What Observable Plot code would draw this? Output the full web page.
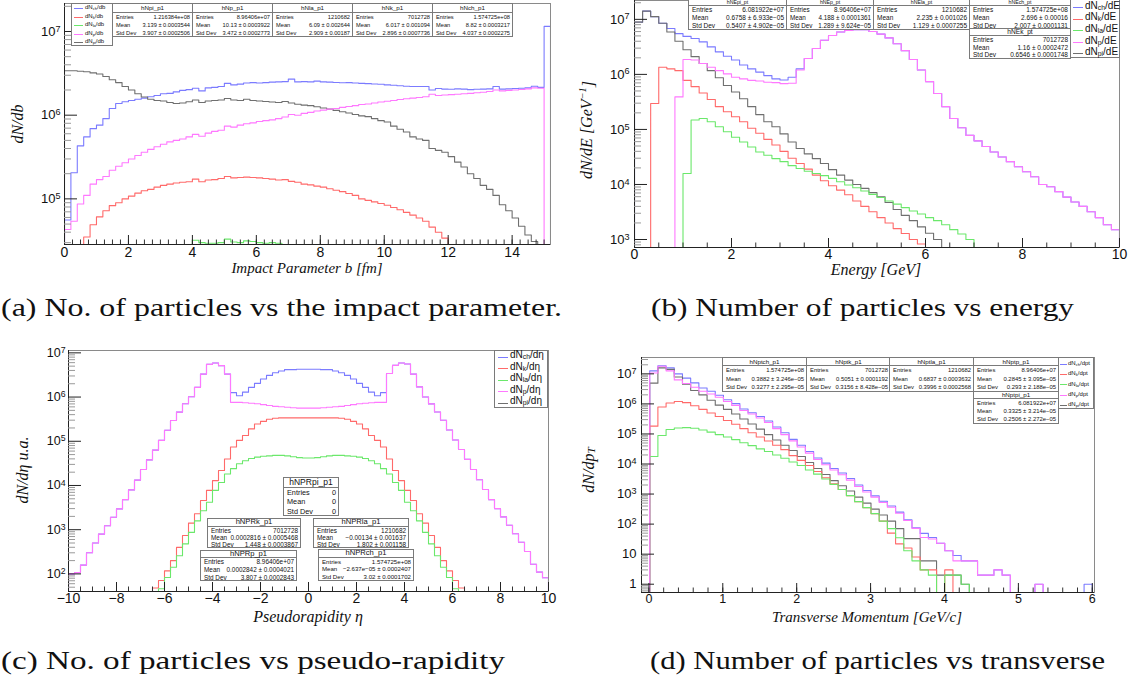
<!DOCTYPE html>
<html><head><meta charset="utf-8">
<script src="https://cdn.jsdelivr.net/npm/d3@7"></script>
<script src="https://cdn.jsdelivr.net/npm/@observablehq/plot@0.6"></script>
<style>
html,body{margin:0;padding:0;background:#fff;}
body{width:1134px;height:684px;overflow:hidden;position:relative;font-family:"Liberation Sans",Arial,sans-serif;}
.pn{position:absolute;}
.stat{position:absolute;background:#fff;border:1px solid #7a7a7a;box-sizing:border-box;color:#111;font-family:"Liberation Sans",Arial,sans-serif;overflow:hidden;}
.stat .h{text-align:center;border-bottom:1px solid #7a7a7a;box-sizing:border-box;white-space:nowrap;}
.stat .r{display:flex;justify-content:space-between;gap:3px;padding:0 2px 0 3px;white-space:nowrap;box-sizing:border-box;}
.leg{position:absolute;background:#fff;border:1px solid #7a7a7a;box-sizing:border-box;color:#111;font-family:"Liberation Sans",Arial,sans-serif;}
.leg .it{position:absolute;white-space:nowrap;}
.leg .ln{position:absolute;height:0;border-top:1px solid;}
.leg sub{font-size:68%;vertical-align:-0.22em;line-height:0;}
</style></head><body>
<script>
// ---------------- DATA ----------------
const names = ["ch","k","la","p","pi"];
const colors = {ch:"#7b7bff", k:"#ff6a6a", la:"#6be86b", p:"#ff78ff", pi:"#6f6f6f"};

// (a) dN/db, bins of 0.2 fm from 0
const aCh = [5.6e4,2.05e5,4.3e5,5.5e5,6.9e5,7.6e5,9.1e5,1.2e6,1.38e6,1.45e6,
1.5e6,1.55e6,1.6e6,1.66e6,1.72e6,1.8e6,1.82e6,1.9e6,1.98e6,2.02e6,
2.1e6,1.95e6,2.12e6,2.15e6,2.2e6,2.4e6,2.3e6,2.35e6,2.42e6,2.45e6,
2.42e6,2.45e6,2.48e6,2.5e6,2.52e6,2.7e6,2.5e6,2.52e6,2.5e6,2.55e6,
2.5e6,2.48e6,2.46e6,2.44e6,2.45e6,2.42e6,2.4e6,2.38e6,2.36e6,2.34e6,
2.3e6,2.28e6,2.25e6,2.22e6,2.2e6,2.2e6,2.2e6,2.0e6,2.08e6,2.05e6,
2.04e6,2.06e6,2.05e6,2.02e6,2.04e6,2.05e6,2.06e6,2.2e6,2.05e6,2.06e6,
2.08e6,2.1e6,2.12e6,2.22e6,2.15e6,1.15e7];
const aP = [4.3e4,5.4e4,8.7e4,1.1e5,1.5e5,1.7e5,1.85e5,2.2e5,2.45e5,2.7e5,
3.0e5,3.3e5,3.6e5,3.9e5,4.2e5,4.5e5,4.8e5,5.0e5,5.2e5,5.5e5,
5.9e5,5.6e5,6.1e5,6.4e5,6.6e5,7.4e5,7.2e5,7.6e5,7.9e5,8.1e5,
8.4e5,8.6e5,8.8e5,9.1e5,9.5e5,1.02e6,1.0e6,1.05e6,1.08e6,1.12e6,
1.15e6,1.18e6,1.2e6,1.24e6,1.27e6,1.3e6,1.34e6,1.36e6,1.4e6,1.44e6,
1.47e6,1.5e6,1.54e6,1.57e6,1.6e6,1.63e6,1.66e6,1.78e6,1.72e6,1.74e6,
1.76e6,1.78e6,1.8e6,1.82e6,1.85e6,1.88e6,1.92e6,2.0e6,1.95e6,1.98e6,
2.0e6,2.03e6,2.06e6,2.12e6,2.1e6,0];
const aK = [0,0,0,3.5e4,4.9e4,6.1e4,7.2e4,8.3e4,9.0e4,1.0e5,
1.08e5,1.17e5,1.25e5,1.3e5,1.38e5,1.45e5,1.5e5,1.55e5,1.58e5,1.6e5,
1.72e5,1.6e5,1.68e5,1.7e5,1.75e5,1.85e5,1.78e5,1.8e5,1.82e5,1.8e5,
1.78e5,1.75e5,1.72e5,1.68e5,1.7e5,1.62e5,1.58e5,1.5e5,1.47e5,1.42e5,
1.38e5,1.32e5,1.27e5,1.22e5,1.16e5,1.1e5,1.0e5,9.6e4,9.2e4,8.8e4,
8.4e4,7.9e4,7.4e4,6.9e4,6.4e4,5.9e4,5.4e4,4.6e4,4.0e4,3.4e4,
0,0,0,0,0,0,0,0,0,0,
0,0,0,0,0,0];
const aPi = [3.4e6,3.4e6,3.35e6,3.3e6,3.2e6,3.1e6,2.9e6,2.65e6,2.45e6,2.2e6,
2.0e6,1.8e6,1.65e6,1.55e6,1.5e6,1.48e6,1.42e6,1.38e6,1.4e6,1.45e6,
1.52e6,1.42e6,1.48e6,1.5e6,1.52e6,1.58e6,1.52e6,1.5e6,1.55e6,1.5e6,
1.48e6,1.46e6,1.44e6,1.42e6,1.46e6,1.4e6,1.35e6,1.32e6,1.3e6,1.26e6,
1.22e6,1.18e6,1.14e6,1.1e6,1.06e6,1.02e6,9.8e5,9.6e5,9.1e5,8.6e5,
8.3e5,7.4e5,6.8e5,6.3e5,5.5e5,5.2e5,5.0e5,4.0e5,3.8e5,3.6e5,
3.2e5,2.75e5,2.4e5,2.0e5,1.75e5,1.45e5,1.3e5,1.1e5,8.5e4,7.2e4,
5.9e4,4.7e4,3.7e4,3.1e4,0,0];
const aLa = [0,0,0,0,0,0,0,0,0,0, 0,0,0,0,0,0,0,0,0,0,
3.2e4,3.0e4,2.95e4,2.95e4,3.0e4,3.3e4,3.05e4,3.0e4,3.15e4,3.1e4,
3.0e4,2.95e4,3.0e4,2.95e4,0,0,0,0,0,0,
0,0,0,0,0,0,0,0,0,0, 0,0,0,0,0,0,0,0,0,0,
0,0,0,0,0,0,0,0,0,0, 0,0,0,0,0,0];

// (b) dN/dE, bins of 1/6 GeV from 0
const bCh = [8.9e6,1.41e7,1.12e7,8.5e6,6.8e6,5.5e6,4.9e6,4.5e6,3.9e6,3.16e6,
2.57e6,2.14e6,1.82e6,1.48e6,1.26e6,1.1e6,9.5e5,8.3e5,7.9e5,8.9e5,
1.26e6,1.95e6,2.95e6,4.17e6,5.1e6,5.9e6,6.3e6,6.5e6,6.5e6,6.0e6,
5.4e6,4.6e6,3.6e6,2.7e6,1.86e6,1.2e6,7.4e5,4.5e5,2.6e5,1.58e5,
1.07e5,7.8e4,6.2e4,4.9e4,3.9e4,3.16e4,2.6e4,2.1e4,1.7e4,1.38e4,
1.0e4,9.1e3,7.4e3,5.9e3,4.8e3,4.0e3,3.2e3,2.5e3,1.86e3,1.5e3];
const bP = [0,0,0,0,0,3.9e5,1.86e6,1.82e6,1.58e6,1.35e6,
1.17e6,1.02e6,8.9e5,8.3e5,7.8e5,7.6e5,7.2e5,7.1e5,6.8e5,6.9e5,
1.2e6,1.95e6,2.95e6,4.17e6,5.1e6,5.9e6,6.3e6,6.5e6,6.5e6,6.0e6,
5.4e6,4.6e6,3.6e6,2.7e6,1.86e6,1.2e6,7.4e5,4.5e5,2.6e5,1.58e5,
1.07e5,7.8e4,6.2e4,4.9e4,3.9e4,3.16e4,2.6e4,2.1e4,1.7e4,1.38e4,
1.0e4,9.1e3,7.4e3,5.9e3,4.8e3,4.0e3,3.2e3,2.5e3,1.86e3,1.5e3];
const bK = [0,0,2.95e5,1.35e6,1.26e6,1.17e6,7.8e5,6.0e5,4.6e5,3.5e5,
2.6e5,2.1e5,1.7e5,1.38e5,1.05e5,8.5e4,6.6e4,5.2e4,4.0e4,3.0e4,
2.4e4,1.9e4,1.48e4,1.17e4,9.5e3,7.9e3,6.5e3,5.0e3,4.0e3,3.2e3,
2.5e3,2.0e3,1.58e3,1.29e3,1.0e3,8.3e2,0,0,0,0,
0,0,0,0,0,0,0,0,0,0, 0,0,0,0,0,0,0,0,0,0];
const bLa = [0,0,0,0,0,0,1.58e4,1.48e5,1.58e5,1.38e5,
1.12e5,9.1e4,7.2e4,5.9e4,4.8e4,3.9e4,3.4e4,2.95e4,2.6e4,2.2e4,
1.95e4,1.74e4,1.58e4,1.45e4,1.29e4,1.12e4,9.8e3,8.7e3,7.6e3,6.6e3,
5.8e3,5.0e3,4.4e3,3.8e3,3.3e3,2.9e3,2.5e3,2.2e3,1.86e3,1.51e3,
1.26e3,1.0e3,0,0,0,0,0,0,0,0, 0,0,0,0,0,0,0,0,0,0];
const bPi = [8.9e6,1.41e7,1.12e7,8.5e6,5.9e6,4.0e6,2.8e6,2.1e6,1.58e6,1.17e6,
8.7e5,6.3e5,4.8e5,3.6e5,2.6e5,1.86e5,1.38e5,1.12e5,8.3e4,5.9e4,
4.5e4,3.6e4,2.95e4,2.4e4,1.86e4,1.48e4,1.2e4,1.0e4,8.5e3,7.1e3,
6.0e3,4.7e3,3.5e3,2.75e3,2.2e3,1.7e3,1.3e3,1.0e3,0,0,
0,0,0,0,0,0,0,0,0,0, 0,0,0,0,0,0,0,0,0,0];

// (c) dN/deta, bins of 0.25 from -10
const cWingL = [100,107,158,302,501,794,1230,1905,2950,4790,
7940,1.32e4,2.29e4,3.8e4,6.31e4,1.05e5,1.78e5,2.95e5,4.57e5,7.08e5,
1.02e6,1.66e6,3.31e6,5.5e6,5.89e6,5.13e6,3.31e6];
const cPCenter = [7.59e5,7.59e5,7.41e5,7.24e5,7.08e5,6.76e5,6.46e5,6.17e5,6.03e5,5.89e5,
5.75e5,5.62e5,5.62e5,5.62e5,5.62e5,5.75e5,5.89e5,6.03e5,6.17e5,6.46e5,
6.76e5,7.08e5,7.24e5,7.41e5,7.59e5,7.59e5];
const cChCenter = [1.26e6,1.07e6,1.29e6,1.66e6,2.04e6,2.57e6,3.09e6,3.55e6,3.89e6,4.17e6,
4.17e6,4.27e6,4.27e6,4.27e6,4.27e6,4.17e6,4.17e6,3.89e6,3.55e6,3.09e6,
2.57e6,2.04e6,1.66e6,1.29e6,1.07e6,1.26e6];
const cWingR = [3.4e6,5.2e6,5.9e6,5.6e6,3.3e6,1.7e6,1.0e6,7.0e5,4.6e5,3.0e5,
1.8e5,1.07e5,6.5e4,3.9e4,2.3e4,1.35e4,8.1e3,4.8e3,3.0e3,1.95e3,
1.26e3,810,520,320,165,110,82];
const cP = [...cWingL, ...cPCenter, ...cWingR];
const cCh = [...cWingL, ...cChCenter, ...cWingR];
const cK = [0,0,0,0,0,0,0,0,0,0,0,0,0,0,
48,71,117,200,398,741,1410,2290,4570,7760,
1.29e4,2.19e4,3.98e4,7.41e4,1.05e5,1.35e5,1.91e5,2.45e5,2.82e5,3.16e5,
3.31e5,3.39e5,3.39e5,3.39e5,3.39e5,3.39e5,3.39e5,3.39e5,3.39e5,3.39e5,3.39e5,3.31e5,
3.16e5,2.82e5,2.45e5,1.91e5,1.35e5,1.05e5,7.41e4,3.98e4,2.19e4,1.29e4,
7760,4570,2290,1410,741,398,200,117,71,48,
0,0,0,0,0,0,0,0,0,0,0,0,0,0];
const cLa = [0,0,0,0,0,0,0,0,0,0,0,0,0,0,0,
46,83,141,257,479,871,1585,2690,4170,7760,
1.17e4,1.82e4,2.4e4,3.09e4,3.63e4,4.07e4,4.37e4,4.57e4,4.68e4,4.79e4,
4.79e4,4.68e4,4.47e4,4.27e4,4.17e4,
4.17e4,4.27e4,4.47e4,4.68e4,4.79e4,
4.79e4,4.68e4,4.57e4,4.37e4,4.07e4,3.63e4,3.09e4,2.4e4,1.82e4,1.17e4,
7760,4170,2690,1585,871,479,257,141,83,46,
0,0,0,0,0,0,0,0,0,0,0,0,0,0,0];

// (d) dN/dpT, 55 bins from -0.1 to 6.0
const dCh = [0,1.26e7,1.85e7,1.58e7,1.0e7,7.2e6,5.0e6,3.4e6,2.63e6,1.95e6,
1.38e6,1.02e6,6.8e5,5.1e5,3.8e5,2.7e5,1.7e5,1.1e5,6.6e4,4.2e4,
2.6e4,1.58e4,1.07e4,7.1e3,5.0e3,3.3e3,2.0e3,1.32e3,870,575,
400,250,138,76,49,36,23,13,9,6,
6,2,2,3,2,0,0,0,1,0, 0,0,0,0,1];
const dP = [0,1.07e7,1.8e7,1.26e7,6.3e6,4.8e6,3.6e6,2.63e6,2.14e6,1.66e6,
1.2e6,8.9e5,6.0e5,4.6e5,3.4e5,2.4e5,1.51e5,9.5e4,5.9e4,3.7e4,
2.3e4,1.41e4,9.5e3,6.3e3,4.4e3,2.9e3,1.78e3,1.17e3,790,525,
363,229,132,72,36,32,23,13,6,6,
6,2,2,3,2,0,0,0,1,0, 0,0,0,0,0];
const dPi = [0,4.9e6,1.58e7,1.41e7,7.9e6,4.5e6,2.8e6,2.0e6,1.32e6,9.1e5,
6.6e5,4.6e5,3.16e5,2.14e5,1.45e5,9.5e4,6.3e4,4.2e4,2.8e4,1.78e4,
1.12e4,7.1e3,4.5e3,2.8e3,1.9e3,1.26e3,790,500,316,200,
126,71,33,33,6,6,2,2,2,1,
0,0,0,0,0,0,0,0,0,0, 0,0,0,0,0];
const dK = [0,1.82e5,7.9e5,1.07e6,1.2e6,1.1e6,8.7e5,6.6e5,5.0e5,3.8e5,
2.8e5,2.1e5,1.51e5,1.1e5,7.9e4,5.8e4,4.2e4,3.0e4,1.9e4,1.32e4,
8.9e3,5.6e3,3.5e3,2.2e3,1.41e3,890,560,355,224,126,
50,22,16,8,3,3,0,3,0,0,
0,0,0,0,0,0,0,0,0,0, 0,0,0,0,0];
const dLa = [0,1.78e4,8.9e4,1.41e5,1.58e5,1.62e5,1.55e5,1.35e5,1.15e5,9.5e4,
7.9e4,6.5e4,5.1e4,4.1e4,3.2e4,2.6e4,2.0e4,1.55e4,1.17e4,8.9e3,
6.3e3,4.6e3,3.16e3,2.1e3,1.41e3,890,560,355,224,126,
71,35,13,6,3,2,0,2,2,1,
0,0,0,0,0,0,0,0,0,0, 0,0,0,0,0];

// tick labels
const aXTicks = [0,2,4,6,8,10,12,14];
const bXTicks = [0,2,4,6,8,10];
const cXTicks = [-10,-8,-6,-4,-2,0,2,4,6,8,10];
const dXTicks = [0,1,2,3,4,5,6];
const aYTicks = [1e5,1e6,1e7];
const bYTicks = [1e3,1e4,1e5,1e6,1e7];
const cYTicks = [1e2,1e3,1e4,1e5,1e6,1e7];
const dYTicks = [1,10,1e2,1e3,1e4,1e5,1e6,1e7];

// statistics boxes text
const aStats = [
 ["hNpi_p1","1.216384e+08","3.139 ± 0.0003544","3.907 ± 0.0002506"],
 ["hNp_p1","8.96406e+07","10.13 ± 0.0003922","3.472 ± 0.0002773"],
 ["hNla_p1","1210682","6.09 ± 0.002644","2.909 ± 0.00187"],
 ["hNk_p1","7012728","6.017 ± 0.001094","2.896 ± 0.0007736"],
 ["hNch_p1","1.574725e+08","8.82 ± 0.0003217","4.037 ± 0.0002275"]];
const bStats = [
 ["hNEpi_pt","6.081922e+07","0.6758 ± 6.933e−05","0.5407 ± 4.902e−05"],
 ["hNEp_pt","8.96406e+07","4.188 ± 0.0001361","1.289 ± 9.624e−05"],
 ["hNEla_pt","1210682","2.235 ± 0.001026","1.129 ± 0.0007255"],
 ["hNEch_pt","1.574725e+08","2.696 ± 0.00016","2.007 ± 0.0001131"],
 ["hNEk_pt","7012728","1.16 ± 0.0002472","0.6546 ± 0.0001748"]];
const cStats = [
 ["hNPRpi_p1","0","0","0"],
 ["hNPRk_p1","7012728","0.0002816 ± 0.0005468","1.448 ± 0.0003867"],
 ["hNPRla_p1","1210682","−0.00134 ± 0.001637","1.802 ± 0.001158"],
 ["hNPRp_p1","8.96406e+07","0.0002842 ± 0.0004021","3.807 ± 0.0002843"],
 ["hNPRch_p1","1.574725e+08","−2.637e−05 ± 0.0002407","3.02 ± 0.0001702"]];
const dStats = [
 ["hNptch_p1","1.574725e+08","0.3882 ± 3.246e−05","0.3277 ± 2.295e−05"],
 ["hNptk_p1","7012728","0.5051 ± 0.0001192","0.3156 ± 8.428e−05"],
 ["hNptla_p1","1210682","0.6837 ± 0.0003632","0.3996 ± 0.0002568"],
 ["hNptp_p1","8.96406e+07","0.2845 ± 3.095e−05","0.293 ± 2.188e−05"],
 ["hNptpi_p1","6.081922e+07","0.3325 ± 3.214e−05","0.2506 ± 2.272e−05"]];
const legendSuffix = {a:"/db", b:"/dE", c:"/dη", d:"/dpt"};
const captions = [
 "(a) No. of particles vs the impact parameter.",
 "(b) Number of particles vs energy",
 "(c) No. of particles vs pseudo-rapidity",
 "(d) Number of particles vs transverse"];

// ---------------- DRAWING ----------------
const SVGNS = "http://www.w3.org/2000/svg";
function hist(values, lo, w, ymin) {
  const pts = [{x: lo, y: ymin}];
  values.forEach((v, i) => pts.push({x: lo + i * w, y: Math.max(v, ymin)}));
  const n = values.length;
  pts.push({x: lo + n * w, y: Math.max(values[n - 1], ymin)});
  pts.push({x: lo + n * w, y: ymin});
  return pts;
}
function logMinor(domain) {
  const out = [];
  for (let e = Math.floor(Math.log10(domain[0])); e <= Math.ceil(Math.log10(domain[1])); e++)
    for (let m = 2; m <= 9; m++) { const v = m * Math.pow(10, e); if (v > domain[0] && v < domain[1]) out.push(v); }
  return out;
}
function supLabel(d) {
  const e = Math.round(Math.log10(d));
  if (e === 0) return "1";
  if (e === 1) return "10";
  return "10^" + e;
}
function svgText(svg, x, y, parts, o) {
  const t = document.createElementNS(SVGNS, "text");
  t.setAttribute("font-family", o.family || "'Liberation Serif', 'Times New Roman', serif");
  t.setAttribute("font-size", o.size);
  if (o.italic) t.setAttribute("font-style", "italic");
  t.setAttribute("text-anchor", o.anchor || "middle");
  t.setAttribute("fill", "#111");
  if (o.rotate) { t.setAttribute("transform", `translate(${x},${y}) rotate(-90)`); t.setAttribute("dominant-baseline", "central"); }
  else { t.setAttribute("x", x); t.setAttribute("y", y); }
  for (const p of parts) {
    const s = document.createElementNS(SVGNS, "tspan");
    s.textContent = p.t;
    if (p.dy) s.setAttribute("dy", p.dy);
    if (p.fs) s.setAttribute("font-size", p.fs);
    t.appendChild(s);
  }
  svg.appendChild(t);
}

function buildPanel(p) {
  const innerW = p.width - p.mL - p.mR, innerH = p.height - p.mT - p.mB;
  const [x0, x1] = p.x, [y0, y1] = p.y;
  const pxPerX = innerW / (x1 - x0);
  const decPx = innerH / Math.log10(y1 / y0);
  const yUp = px => y0 * Math.pow(10, px / decPx);
  const xRight = px => x0 + px / pxPerX;
  const marks = [];
  for (const s of p.series)
    marks.push(Plot.line(hist(s.values, p.lo, p.w, y0), {x: "x", y: "y", curve: "step-after", stroke: s.color, strokeWidth: 1.1, clip: true}));
  marks.push(Plot.frame({stroke: "#8a8a8a"}));
  marks.push(Plot.ruleY([y0], {stroke: "#222"}));
  marks.push(Plot.ruleX([x0], {stroke: "#222"}));
  marks.push(Plot.ruleX(p.xMinor, {x: d => d, y1: y0, y2: yUp(4.5), stroke: "#333"}));
  marks.push(Plot.ruleX(p.xTicks, {x: d => d, y1: y0, y2: yUp(9), stroke: "#222"}));
  marks.push(Plot.ruleY(logMinor(p.y), {y: d => d, x1: x0, x2: xRight(7), stroke: "#999"}));
  marks.push(Plot.ruleY(p.yTicks, {y: d => d, x1: x0, x2: xRight(13), stroke: "#222"}));
  marks.push(Plot.axisX(p.xTicks, {tickSize: 0, tickPadding: p.xPad, fontSize: p.xFont, label: null,
    tickFormat: d => d < 0 ? "−" + (-d) : String(d)}));
  marks.push(Plot.axisY(p.yTicks, {tickSize: 0, tickPadding: p.yPad, fontSize: p.yFont, label: null, tickFormat: supLabel}));
  const svg = Plot.plot({
    width: p.width, height: p.height,
    marginLeft: p.mL, marginRight: p.mR, marginTop: p.mT, marginBottom: p.mB,
    x: {domain: p.x, label: null}, y: {type: "log", domain: p.y, label: null},
    style: {background: "transparent", fontFamily: "'Liberation Sans', Arial, sans-serif", overflow: "visible", color: "#111"},
    marks
  });
  svg.querySelectorAll('g[aria-label="y-axis tick label"] text').forEach(t => {
    const s = t.textContent;
    if (s.includes("^")) {
      const [b, e] = s.split("^");
      t.textContent = "";
      const t1 = document.createElementNS(SVGNS, "tspan"); t1.textContent = b;
      const t2 = document.createElementNS(SVGNS, "tspan"); t2.textContent = e;
      t2.setAttribute("dy", "-0.45em"); t2.setAttribute("font-size", "70%");
      t.appendChild(t1); t.appendChild(t2);
    }
  });
  for (const tt of p.titles) svgText(svg, tt.x, tt.y, tt.parts, tt);
  const div = document.createElement("div");
  div.className = "pn"; div.style.left = p.left + "px"; div.style.top = p.top + "px";
  div.appendChild(svg);
  document.body.appendChild(div);
}

buildPanel({left: 0, top: 0, width: 567, height: 290, mL: 64, mR: 17, mT: 3, mB: 46,
  x: [0, 15.2], y: [2.85e4, 2.16e7], lo: 0, w: 0.2,
  series: [{values: aCh, color: colors.ch}, {values: aPi, color: colors.pi}, {values: aK, color: colors.k}, {values: aP, color: colors.p}, {values: aLa, color: colors.la}],
  xTicks: aXTicks, xMinor: d3.range(0, 15.21, 0.25), yTicks: aYTicks, xPad: 3, xFont: 14, yPad: 4, yFont: 13,
  titles: [{x: 307, y: 273, parts: [{t: "Impact Parameter b [fm]"}], size: 15, italic: true},
           {x: 17, y: 124, parts: [{t: "dN/db"}], size: 16, italic: true, rotate: true}]});
buildPanel({left: 567, top: 0, width: 567, height: 290, mL: 67, mR: 15, mT: 0, mB: 43,
  x: [0, 10], y: [716, 2.2e7], lo: 0, w: 1 / 6,
  series: [{values: bCh, color: colors.ch}, {values: bPi, color: colors.pi}, {values: bK, color: colors.k}, {values: bLa, color: colors.la}, {values: bP, color: colors.p}],
  xTicks: bXTicks, xMinor: d3.range(0, 10.01, 0.5), yTicks: bYTicks, xPad: 2, xFont: 14, yPad: 5, yFont: 13,
  titles: [{x: 309, y: 275, parts: [{t: "Energy [GeV]"}], size: 16, italic: true},
           {x: 19, y: 130, parts: [{t: "dN/dE [GeV"}, {t: "−1", dy: "-0.4em", fs: "65%"}, {t: "]", dy: "0.4em"}], size: 16, italic: true, rotate: true}]});
buildPanel({left: 0, top: 340, width: 567, height: 300, mL: 68, mR: 19, mT: 10, mB: 49,
  x: [-10, 10], y: [40, 1.13e7], lo: -10, w: 0.25,
  series: [{values: cCh, color: colors.ch}, {values: cK, color: colors.k}, {values: cLa, color: colors.la}, {values: cP, color: colors.p}],
  xTicks: cXTicks, xMinor: d3.range(-10, 10.01, 0.5), yTicks: cYTicks, xPad: 2, xFont: 14, yPad: 3, yFont: 12.5,
  titles: [{x: 308, y: 282, parts: [{t: "Pseudorapidity η"}], size: 16, italic: true},
           {x: 22, y: 130, parts: [{t: "dN/dη u.a."}], size: 16, italic: true, rotate: true}]});
buildPanel({left: 567, top: 340, width: 567, height: 300, mL: 74, mR: 40, mT: 17, mB: 48,
  x: [-0.1, 6.03], y: [0.53, 3.5e7], lo: -0.1, w: 6.1 / 55,
  series: [{values: dCh, color: colors.ch}, {values: dPi, color: colors.pi}, {values: dK, color: colors.k}, {values: dLa, color: colors.la}, {values: dP, color: colors.p}],
  xTicks: dXTicks, xMinor: d3.range(0, 6.01, 0.2), yTicks: dYTicks, xPad: 2, xFont: 12.5, yPad: 5, yFont: 13,
  titles: [{x: 300, y: 282, parts: [{t: "Transverse Momentum [GeV/c]"}], size: 15, italic: true},
           {x: 21, y: 130, parts: [{t: "dN/dp"}, {t: "T", dy: "0.3em", fs: "70%"}], size: 16, italic: true, rotate: true}]});

function statBox(r, x, y, w, headH, rowH, font, headFont) {
  const d = document.createElement("div");
  d.className = "stat";
  Object.assign(d.style, {left: x + "px", top: y + "px", width: w + "px", height: (headH + 3 * rowH + 1) + "px", fontSize: font + "px"});
  const h = document.createElement("div"); h.className = "h";
  Object.assign(h.style, {height: headH + "px", lineHeight: (headH - 1) + "px", fontSize: headFont + "px"});
  h.textContent = r[0]; d.appendChild(h);
  [["Entries", r[1]], ["Mean", r[2]], ["Std Dev", r[3]]].forEach(([a, b]) => {
    const row = document.createElement("div"); row.className = "r";
    Object.assign(row.style, {height: rowH + "px", lineHeight: rowH + "px"});
    row.innerHTML = `<span>${a}</span><span>${b}</span>`;
    d.appendChild(row);
  });
  document.body.appendChild(d);
}
// (a)
[112, 192, 272, 352, 432].forEach((x, i) => statBox(aStats[i], x, 3, 81, 9, 8, 5.7, 6.2));
// (b)
statBox(bStats[0], 688, -1, 99, 5.5, 8, 6.5, 5.2);
statBox(bStats[1], 786, -1, 88, 5.5, 8, 6.3, 5.2);
statBox(bStats[2], 873, -1, 97, 5.5, 8, 6.5, 5.2);
statBox(bStats[3], 969, -1, 102, 5.5, 8, 6.5, 5.2);
statBox(bStats[4], 969, 28, 102, 7, 7.6, 6.5, 6.6);
// (c)
statBox(cStats[0], 283, 477, 56, 9.5, 9.5, 7.3, 8.5);
statBox(cStats[1], 207, 518, 94, 7.5, 7.3, 6.4, 7.6);
statBox(cStats[2], 313, 518, 96, 7.5, 7.3, 6.4, 7.6);
statBox(cStats[3], 200, 550, 97, 7, 7.8, 6.4, 7.6);
statBox(cStats[4], 318, 549, 96, 7.5, 7.8, 6.1, 7.6);
// (d)
[722, 806, 889, 973].forEach((x, i) => statBox(dStats[i], x, 357, x === 973 ? 86 : 85, 8, 8.7, 5.9, 6.2));
statBox(dStats[4], 973, 391, 86, 7, 8.2, 5.9, 6.2);

function legend(key, x, y, w, h, y0, dy, font, lx0, lx1, tx) {
  const d = document.createElement("div"); d.className = "leg";
  Object.assign(d.style, {left: x + "px", top: y + "px", width: w + "px", height: h + "px", fontSize: font + "px"});
  names.forEach((n, i) => {
    const cy = y0 + i * dy - y;
    const ln = document.createElement("div"); ln.className = "ln";
    Object.assign(ln.style, {left: (lx0 - x) + "px", width: (lx1 - lx0) + "px", top: cy + "px", borderTopColor: colors[n]});
    const it = document.createElement("div"); it.className = "it";
    Object.assign(it.style, {left: (tx - x) + "px", top: (cy - font * 0.62) + "px", lineHeight: font + "px"});
    it.innerHTML = `dN<sub>${n}</sub>${legendSuffix[key]}`;
    d.appendChild(ln); d.appendChild(it);
  });
  document.body.appendChild(d);
}
legend("a", 71, 3, 42, 43, 7, 8.5, 6, 73, 82, 84);
legend("b", 1070, -1, 50, 59, 6, 11.6, 10, 1072, 1082, 1084);
legend("c", 494, 350, 54, 58, 355.5, 11.5, 10, 497, 507, 509);
legend("d", 1058, 357, 36, 52, 363, 10.2, 6, 1059, 1066, 1067);

// captions
(function () {
  const svg = document.createElementNS(SVGNS, "svg");
  svg.setAttribute("width", 1134); svg.setAttribute("height", 684);
  Object.assign(svg.style, {position: "absolute", left: "0px", top: "0px", pointerEvents: "none"});
  const pos = [[1, 316, 561], [651, 316, 423], [1, 669, 504], [650, 669, 455]];
  captions.forEach((c, i) => {
    const t = document.createElementNS(SVGNS, "text");
    t.setAttribute("x", pos[i][0]); t.setAttribute("y", pos[i][1]);
    t.setAttribute("font-family", "'Liberation Serif', 'Times New Roman', serif");
    t.setAttribute("font-size", 25); t.setAttribute("fill", "#111");
    t.setAttribute("textLength", pos[i][2]); t.setAttribute("lengthAdjust", "spacingAndGlyphs");
    t.textContent = c;
    svg.appendChild(t);
  });
  document.body.appendChild(svg);
})();
</script>
</body></html>
